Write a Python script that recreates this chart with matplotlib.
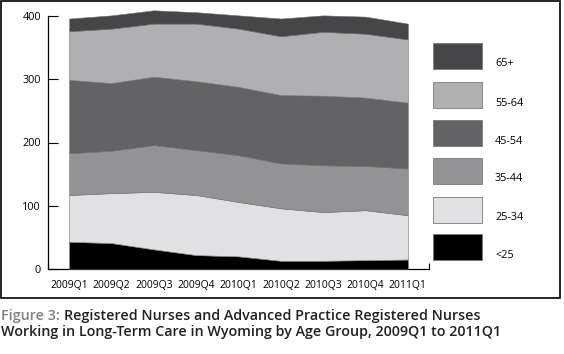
import matplotlib
matplotlib.use("Agg")
import matplotlib.pyplot as plt
from matplotlib.patches import Rectangle
import numpy as np

quarters = ["2009Q1", "2009Q2", "2009Q3", "2009Q4", "2010Q1",
            "2010Q2", "2010Q3", "2010Q4", "2011Q1"]
age_groups = ["<25", "25-34", "35-44", "45-54", "55-64", "65+"]
under25 = [43, 41, 31, 22, 20, 13, 13, 14, 15]
age25_34 = [74, 79, 91, 95, 86, 83, 77, 79, 70]
age35_44 = [66, 67, 74, 71, 74, 71, 74, 70, 74]
age45_54 = [116, 107, 108, 109, 108, 108, 110, 108, 104]
age55_64 = [77, 86, 84, 91, 92, 93, 101, 101, 100]
age65plus = [20, 21, 21, 18, 21, 28, 26, 27, 25]
series = [under25, age25_34, age35_44, age45_54, age55_64, age65plus]
colors = ["#000000", "#e1e1e3", "#939396", "#636365", "#b0b0b3", "#464648"]
yticks = [0, 100, 200, 300, 400]

plt.rcParams['font.family'] = ['Open Sans', 'DejaVu Sans']

W, H = 564, 354
fig = plt.figure(figsize=(W / 100, H / 100), dpi=100)

def fx(px):
    return px / W

def fy(py):
    return 1 - py / H

ax = fig.add_axes([fx(48), fy(269), fx(429) - fx(48), fy(16) - fy(269)])
x = np.arange(len(quarters))
base = np.zeros(len(quarters))
for vals, c in zip(series, colors):
    top = base + np.array(vals)
    ax.fill_between(x, base, top, facecolor=c, edgecolor="#6e6e6e",
                    linewidth=0.4, clip_on=False, zorder=1)
    base = top

ax.set_xlim(-0.5, len(quarters) - 0.5)
ax.set_ylim(0, 400)
ax.set_yticks(yticks)
ax.set_xticks(x)
ax.set_xticklabels(quarters)
ax.set_xticks(np.arange(-0.5, len(quarters), 1), minor=True)
ax.tick_params(axis='y', direction='in', length=7, width=0.8, pad=5,
               labelsize=7.8, colors='#000000')
ax.tick_params(axis='x', which='major', length=0, pad=8, labelsize=7.5)
ax.tick_params(axis='x', which='minor', direction='in', length=4, width=0.8)
ax.set_axisbelow(True)
for s in ['top', 'right']:
    ax.spines[s].set_visible(False)
for s in ['left', 'bottom']:
    ax.spines[s].set_linewidth(0.9)
    ax.spines[s].set_zorder(0.6)

# Legend (manual, matching original layout)
box_tops = [234, 197, 158, 120, 82, 43]
for lab, c, t in zip(age_groups, colors, box_tops):
    fig.patches.append(Rectangle((fx(433), fy(t + 26)), fx(49), 26 / H,
                                 transform=fig.transFigure, facecolor=c,
                                 edgecolor="#7a7a7a", linewidth=0.6))
    fig.text(fx(495), fy(t + 21), lab, fontsize=7.8, va='center', ha='left',
             color='#000000')

# Outer border
fig.patches.append(Rectangle((fx(0.8), fy(297.5)), fx(560.5) - fx(0.8),
                             fy(0.8) - fy(297.5), transform=fig.transFigure,
                             fill=False, edgecolor='#000000', linewidth=1.2))

# Caption
cap_fs = 10.3
t1 = fig.text(fx(1), fy(316), "Figure 3: ", fontsize=cap_fs, color='#808080',
              va='center', ha='left', fontweight='semibold')
fig.canvas.draw()
bb = t1.get_window_extent(renderer=fig.canvas.get_renderer())
fig.text(bb.x1 / (W), fy(316),
         "Registered Nurses and Advanced Practice Registered Nurses",
         fontsize=cap_fs, color='#231f20', va='center', ha='left',
         fontweight='semibold')
fig.text(fx(1), fy(332),
         "Working in Long-Term Care in Wyoming by Age Group, 2009Q1 to 2011Q1",
         fontsize=cap_fs, color='#231f20', va='center', ha='left',
         fontweight='semibold')

fig.savefig("out.png", dpi=100)
